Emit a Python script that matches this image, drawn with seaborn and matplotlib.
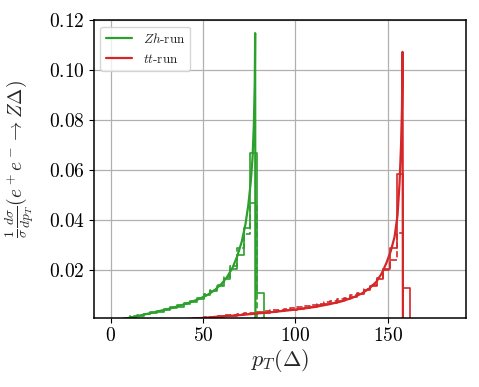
import numpy as np
import pandas as pd
import matplotlib
matplotlib.use("Agg")
import matplotlib.pyplot as plt
import seaborn as sns

# histogram bins (width 3.6)
zh_edges = np.arange(0, 90.01, 3.6)
zh_solid = [0, 0, 0.0009, 0.0013, 0.0018, 0.0023, 0.0029, 0.0034, 0.0041, 0.0048,
            0.0054, 0.0063, 0.0074, 0.0086, 0.0100, 0.0115, 0.0137, 0.0166, 0.0205,
            0.0262, 0.0367, 0.0670, 0.0110, 0, 0]
zh_dashed = [0, 0, 0.0010, 0.0015, 0.0021, 0.0026, 0.0033, 0.0038, 0.0046, 0.0052,
             0.0059, 0.0068, 0.0078, 0.0090, 0.0104, 0.0120, 0.0142, 0.0172, 0.0215,
             0.0290, 0.0345, 0.0470, 0, 0.0004, 0]

tt_edges = np.arange(36.0, 165.61, 3.6)
tt_solid = [0, 0.0004, 0.0006, 0.0008, 0.0010, 0.0012, 0.0014, 0.0016, 0.0018, 0.0020,
            0.0023, 0.0025, 0.0028, 0.0030, 0.0033, 0.0036, 0.0039, 0.0042, 0.0046,
            0.0050, 0.0054, 0.0059, 0.0064, 0.0070, 0.0077, 0.0084, 0.0094, 0.0105,
            0.0119, 0.0138, 0.0163, 0.0205, 0.0290, 0.0583, 0.0130, 0]
tt_dashed = [0, 0.0004, 0.0007, 0.0009, 0.0012, 0.0014, 0.0016, 0.0019, 0.0021, 0.0024,
             0.0027, 0.0030, 0.0033, 0.0036, 0.0039, 0.0042, 0.0046, 0.0049, 0.0053,
             0.0057, 0.0062, 0.0066, 0.0071, 0.0077, 0.0083, 0.0090, 0.0099, 0.0110,
             0.0124, 0.0142, 0.0168, 0.0200, 0.0240, 0.0350, 0, 0.0003]

# smooth curves
zh_x = [7, 12, 18, 25, 32, 38, 43, 48, 52, 56, 60, 63, 66, 68.5, 71, 73, 74.5,
        75.8, 76.8, 77.5, 78.0, 78.2, 78.35]
zh_y = [0.0005, 0.0012, 0.0022, 0.0034, 0.0046, 0.0059, 0.0071, 0.0085, 0.0099,
        0.0118, 0.0145, 0.0172, 0.0210, 0.0255, 0.0315, 0.0385, 0.0460, 0.0550,
        0.0650, 0.0780, 0.0950, 0.1148, 0.0]
tt_x = [39, 50, 60, 70, 80, 90, 100, 110, 118, 125, 131, 136, 140, 143.7, 146.5,
        149.1, 151.5, 153.6, 155.2, 156.3, 157.1, 157.6, 157.9, 158.1]
tt_y = [0.0003, 0.0009, 0.0015, 0.0020, 0.0027, 0.0034, 0.0042, 0.0052, 0.0063,
        0.0075, 0.0090, 0.0107, 0.0127, 0.0153, 0.0185, 0.0227, 0.0275, 0.0333,
        0.0420, 0.0550, 0.0700, 0.0850, 0.1073, 0.0]

green = "#2ca02c"
red = "#d62728"

sns.set_style("whitegrid", {"axes.edgecolor": "black", "grid.color": "#b0b0b0",
                            "xtick.bottom": True, "ytick.left": True})
plt.rcParams["font.family"] = "serif"
plt.rcParams["font.serif"] = ["cmr10", "DejaVu Serif"]
plt.rcParams["mathtext.fontset"] = "cm"
plt.rcParams["axes.formatter.use_mathtext"] = True

fig, ax = plt.subplots(figsize=(4.79, 3.87), dpi=100)
fig.subplots_adjust(left=0.196, right=0.972, top=0.948, bottom=0.178)


def hist_df(edges, heights):
    return pd.DataFrame({"pt": (edges[:-1] + edges[1:]) / 2, "w": heights})


for edges, heights, color, ls in [(zh_edges, zh_solid, green, "-"),
                                  (zh_edges, zh_dashed, green, "--"),
                                  (tt_edges, tt_solid, red, "-"),
                                  (tt_edges, tt_dashed, red, "--")]:
    sns.histplot(data=hist_df(edges, heights), x="pt", weights="w", bins=list(edges),
                 element="step", fill=False, color=color, linewidth=1.2,
                 linestyle=ls, ax=ax)

sns.lineplot(x=zh_x, y=zh_y, color=green, linewidth=1.6, label="$Zh$-run", ax=ax)
sns.lineplot(x=tt_x, y=tt_y, color=red, linewidth=1.6, label="$tt$-run", ax=ax)

ax.set_xlim(-9, 192)
ax.set_ylim(0.0008, 0.12)
ax.set_xticks([0, 50, 100, 150])
ax.set_yticks([0.02, 0.04, 0.06, 0.08, 0.10, 0.12])
ax.set_yticklabels(["$%.2f$" % v for v in [0.02, 0.04, 0.06, 0.08, 0.10, 0.12]])
ax.set_xticklabels(["$%d$" % v for v in [0, 50, 100, 150]])
ax.tick_params(labelsize=14, length=3.5, width=0.8, colors="black", pad=3)
for s in ax.spines.values():
    s.set_linewidth(1.1)
ax.grid(True, linewidth=0.9)

ax.set_xlabel(r"$p_T(\Delta)$", fontsize=16, labelpad=1)
ax.set_ylabel(r"$\frac{1}{\sigma}\frac{d\sigma}{dp_T}(e^+e^- \rightarrow Z\Delta)$",
              fontsize=14)
ax.yaxis.set_label_coords(-0.155, 0.535)

ax.legend(loc="upper left", fontsize=9.5, frameon=True, fancybox=True,
          edgecolor="#cccccc", framealpha=0.8)

fig.savefig("out.png", dpi=100)
